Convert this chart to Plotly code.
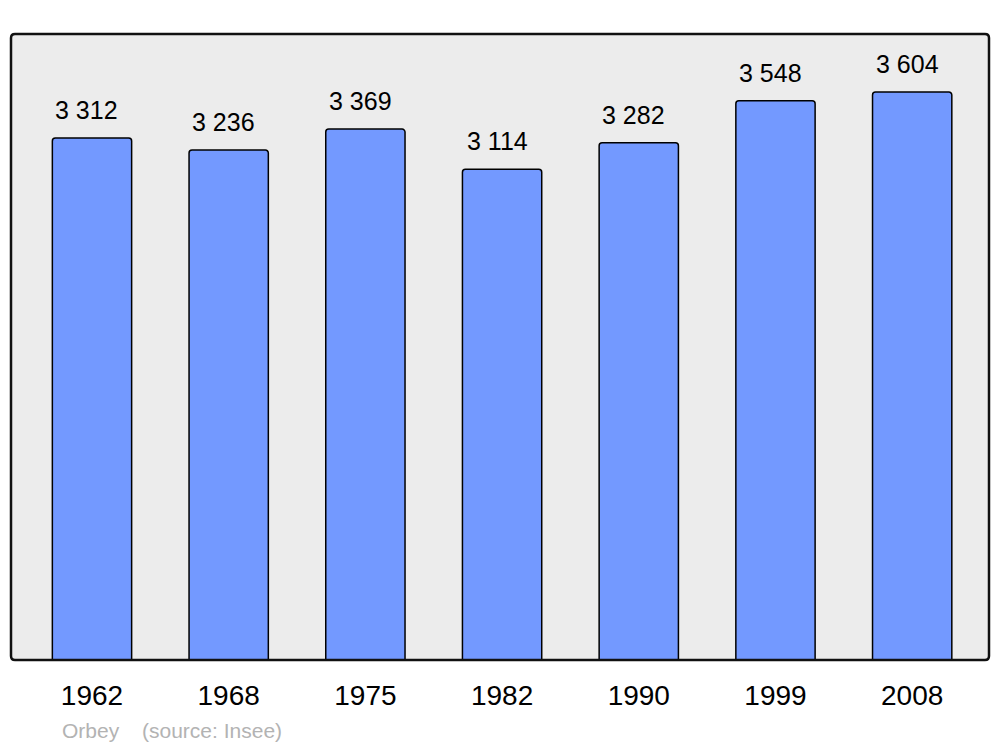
import plotly.graph_objects as go

years = ["1962", "1968", "1975", "1982", "1990", "1999", "2008"]
population = [3312, 3236, 3369, 3114, 3282, 3548, 3604]
value_labels = ["3 312", "3 236", "3 369", "3 114", "3 282", "3 548", "3 604"]
commune = "Orbey"
source = "(source: Insee)"

idx = list(range(len(years)))

fig = go.Figure()
fig.add_trace(go.Bar(
    x=idx, y=population, width=0.58,
    marker=dict(color="#7399ff", line=dict(color="#000000", width=1.5), cornerradius=3),
    hoverinfo="skip",
))

for i, v, lab in zip(idx, population, value_labels):
    fig.add_annotation(x=i, y=v, text=lab, showarrow=False, yanchor="bottom",
                       xanchor="center", yshift=12, xshift=-5,
                       font=dict(family="Liberation Sans, Arial", size=25, color="#000000"))

W, H = 978, 626
r = 4
rx, ry = r / W, r / H
path = (f"M {rx},0 L {1-rx},0 Q 1,0 1,{ry} L 1,{1-ry} Q 1,1 {1-rx},1 "
        f"L {rx},1 Q 0,1 0,{1-ry} L 0,{ry} Q 0,0 {rx},0 Z")
fig.add_shape(type="path", xref="paper", yref="paper", path=path,
              line=dict(color="#111111", width=2.5), layer="above")

fig.add_annotation(xref="paper", yref="paper", x=(60 - 11) / W, y=-(730 - 660) / H,
                   text=commune, showarrow=False, xanchor="left", yanchor="middle",
                   font=dict(family="Liberation Sans, Arial", size=21, color="#b3b3b3"))
fig.add_annotation(xref="paper", yref="paper", x=(140 - 11) / W, y=-(730 - 660) / H,
                   text=source, showarrow=False, xanchor="left", yanchor="middle",
                   font=dict(family="Liberation Sans, Arial", size=21, color="#b3b3b3"))

fig.update_layout(
    width=984, height=739,
    margin=dict(l=3, r=3, t=26, b=87),
    paper_bgcolor="#ffffff", plot_bgcolor="#ececec",
    showlegend=False,
    xaxis=dict(range=[-0.5925, 6.562], showgrid=False, zeroline=False,
               showline=False, ticks="", ticklabelstandoff=16,
               tickmode="array", tickvals=idx, ticktext=years,
               tickfont=dict(family="Liberation Sans, Arial", size=28, color="#000000")),
    yaxis=dict(range=[0, 3972], showgrid=False, zeroline=False, showline=False,
               showticklabels=False, ticks=""),
)

fig.write_html("out.html")
